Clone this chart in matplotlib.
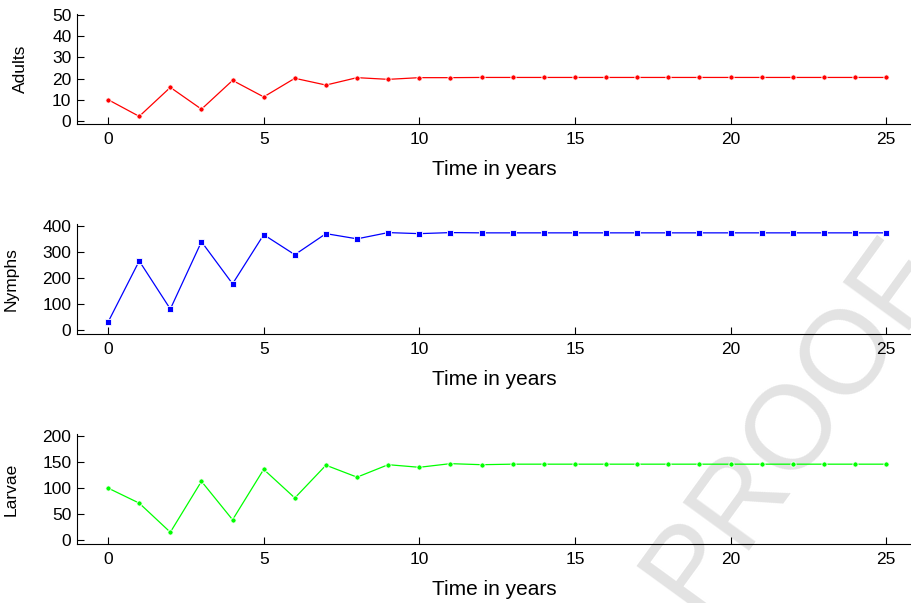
import numpy as np
import matplotlib
matplotlib.use("Agg")
import matplotlib.pyplot as plt

plt.rcParams['font.family'] = ['Liberation Sans', 'DejaVu Sans']

years = np.arange(0, 26)

adults = [10, 2.1, 15.8, 5.5, 19.1, 11.3, 20.1, 16.9, 20.4, 19.6, 20.4, 20.4,
          20.5, 20.5, 20.5, 20.5, 20.5, 20.5, 20.5, 20.5, 20.5, 20.5, 20.5,
          20.5, 20.5, 20.5]
nymphs = [31, 266, 81, 340, 178, 367, 290, 371, 351, 375, 371, 375,
          374, 374, 374, 374, 374, 374, 374, 374, 374, 374, 374, 374, 374, 374]
larvae = [100, 71, 15, 113, 39, 136, 81, 144, 121, 145, 140, 147,
          145, 146, 146, 146, 146, 146, 146, 146, 146, 146, 146, 146, 146, 146]

panels = [
    ("Adults", adults, 'red', '.', 7.5, (-1.5, 50.5), [0, 10, 20, 30, 40, 50]),
    ("Nymphs", nymphs, 'blue', 's', 4.5, (-15, 408), [0, 100, 200, 300, 400]),
    ("Larvae", larvae, (0, 1, 0), '.', 7.5, (-7.7, 204), [0, 50, 100, 150, 200]),
]
# позиции осей (доли фигуры)
bottoms = [0.7944, 0.4461, 0.0978]

fig = plt.figure(figsize=(9.11, 6.03), dpi=100)

for (name, vals, col, mk, ms, ylim, yt), b in zip(panels, bottoms):
    ax = fig.add_axes([0.0845, b, 0.9155, 0.1824])
    ax.plot(years, vals, color=col, lw=0.9, marker=mk, ms=ms,
            mec='white', mew=0.6, mfc=col, clip_on=False)
    ax.set_xlim(-1, 25.8)
    ax.set_ylim(*ylim)
    ax.set_yticks(yt)
    ax.set_xticks([0, 5, 10, 15, 20, 25])
    ax.spines['top'].set_visible(False)
    ax.spines['right'].set_visible(False)
    ax.tick_params(direction='in', labelsize=12.5, length=5, pad=4, width=0.8)
    ax.tick_params(axis='x', pad=6)
    ax.set_xlabel("Time in years", fontsize=15, labelpad=9)
    ax.set_ylabel(name, fontsize=12.5, labelpad=17)
    ax.patch.set_alpha(0)

# водяной знак
ang = 54
fs = 86
u = np.array([np.cos(np.radians(ang)), np.sin(np.radians(ang))])
base = np.array([818.0, 160.0])  # пиксели, точка на базовой линии под центром "PROOF"
wm = dict(fontsize=fs, color='#e3e3e3', rotation=ang, rotation_mode='anchor',
          va='baseline', zorder=-10)
fig.text(base[0] / 911, base[1] / 603, "PROOF", ha='center', **wm)
r = fig.canvas.get_renderer()
tmp = fig.text(0, 0, "PROOF", fontsize=fs)
w = tmp.get_window_extent(r).width
tmp.remove()
left = base - (w / 2) * u
fig.text(left[0] / 911, left[1] / 603, "UNCORRECTED ", ha='right', **wm)

fig.savefig("out.png", dpi=100)
